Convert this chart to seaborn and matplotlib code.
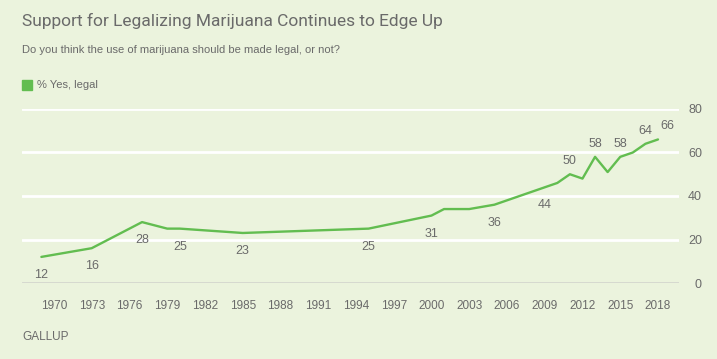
import matplotlib
matplotlib.use("Agg")
import matplotlib.pyplot as plt
import seaborn as sns
import pandas as pd

# Gallup: % saying marijuana use should be legal
years = [1969, 1972, 1973, 1977, 1979, 1980, 1985, 1995, 2000, 2001, 2003, 2005,
         2009, 2010, 2011, 2012, 2013, 2014, 2015, 2016, 2017, 2018]
pct_yes = [12, 15, 16, 28, 25, 25, 23, 25, 31, 34, 34, 36,
           44, 46, 50, 48, 58, 51, 58, 60, 64, 66]

labels_below = [1969, 1973, 1977, 1980, 1985, 1995, 2000, 2005, 2009]
labels_above = [2011, 2013, 2015, 2017, 2018]

x_ticks = list(range(1970, 2019, 3))
y_ticks = [0, 20, 40, 60, 80]

df = pd.DataFrame({"year": years, "pct": pct_yes})

BG = "#ebf3dd"
GREEN = "#62bd50"
TEXT = "#6a6a6a"

sns.set_style("white")
plt.rcParams["font.family"] = ["Liberation Sans", "DejaVu Sans"]

fig = plt.figure(figsize=(7.17, 3.59), dpi=100, facecolor=BG)
W, H = 717, 359
ax = fig.add_axes([22 / W, (H - 283) / H, (679 - 22) / W, (283 - 109) / H])
ax.set_facecolor(BG)

for y in y_ticks[1:]:
    ax.axhline(y, color="white", lw=2, zorder=1)
ax.axhline(0, color="#d4d6ce", lw=2, zorder=1)

sns.lineplot(data=df, x="year", y="pct", ax=ax, color=GREEN, lw=1.7, zorder=3)

lookup = dict(zip(years, pct_yes))
for yr in labels_below:
    ax.annotate(str(lookup[yr]), (yr, lookup[yr]), xytext=(0, -13),
                textcoords="offset points", ha="center", va="center",
                fontsize=9, color=TEXT)
for yr in labels_above:
    dx = 6.5 if yr == 2018 else 0
    ax.annotate(str(lookup[yr]), (yr, lookup[yr]), xytext=(dx, 9.5),
                textcoords="offset points", ha="center", va="center",
                fontsize=9, color=TEXT)

ax.set_xlim(1967.46, 2019.67)
ax.set_ylim(0, 80)
ax.set_xticks(x_ticks)
ax.set_xticklabels([str(t) for t in x_ticks])
ax.set_yticks(y_ticks)
ax.set_yticklabels([str(t) for t in y_ticks])
ax.yaxis.tick_right()
ax.tick_params(axis="x", length=7, width=1.5, color="#d4d6ce", pad=5.5,
               labelsize=8.5, labelcolor=TEXT)
ax.tick_params(axis="y", length=0, pad=16.5, labelsize=9, labelcolor=TEXT)
for lab in ax.get_yticklabels():
    lab.set_horizontalalignment("right")
ax.set_xlabel("")
ax.set_ylabel("")
for s in ax.spines.values():
    s.set_visible(False)

fig.text(22 / W, 1 - 21 / H, "Support for Legalizing Marijuana Continues to Edge Up",
         fontsize=12.5, color=TEXT, va="center", ha="left", family="Roboto")
fig.text(22 / W, 1 - 50 / H, "Do you think the use of marijuana should be made legal, or not?",
         fontsize=8, color=TEXT, va="center", ha="left")
fig.patches.append(plt.Rectangle((22 / W, 1 - 90 / H), 10 / W, 10 / H,
                                 transform=fig.transFigure, color=GREEN))
fig.text(37 / W, 1 - 85 / H, "% Yes, legal", fontsize=8, color=TEXT,
         va="center", ha="left")
fig.text(22 / W, 1 - 337 / H, "GALLUP", fontsize=8.5,
         color=TEXT, va="center", ha="left")

fig.savefig("out.png", dpi=100, facecolor=BG)
